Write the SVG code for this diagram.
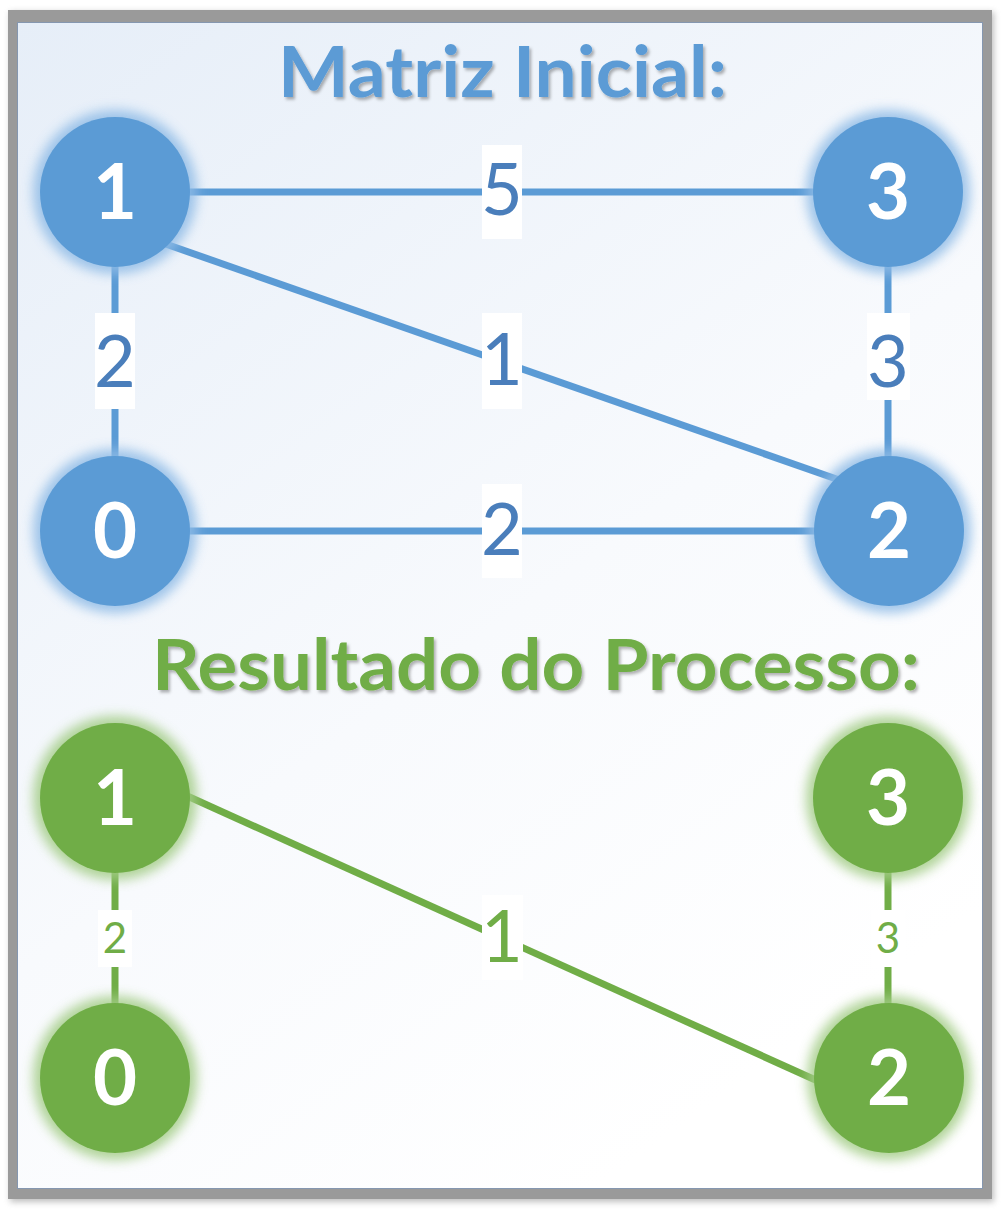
<svg xmlns="http://www.w3.org/2000/svg" width="1001" height="1210" viewBox="0 0 1001 1210">
  <defs>
    <linearGradient id="bg" x1="0" y1="0" x2="0.6" y2="1">
      <stop offset="0" stop-color="#e6eef8"/>
      <stop offset="0.6" stop-color="#f8fafd"/>
      <stop offset="1" stop-color="#ffffff"/>
    </linearGradient>
    <filter id="frameShadow" x="-5%" y="-5%" width="110%" height="110%">
      <feGaussianBlur stdDeviation="3"/>
    </filter>
    <filter id="glow" x="-30%" y="-30%" width="160%" height="160%">
      <feGaussianBlur stdDeviation="6"/>
    </filter>
    <filter id="tshadow" x="-5%" y="-20%" width="110%" height="150%">
      <feDropShadow dx="2" dy="2.5" stdDeviation="1.5" flood-color="#000" flood-opacity="0.3"/>
    </filter>
    <style>
      .blue { fill: #5b9bd5; }
      .green { fill: #70ad47; }
      .glowB { fill: #8fbbe6; opacity: 0.85; }
      .glowG { fill: #a3cc86; opacity: 0.85; }
      .nlabel { font-family: Lato, "Open Sans", sans-serif; font-weight: 700; font-size: 76px; fill: #ffffff; text-anchor: middle; }
      .eB { stroke: #5b9bd5; stroke-width: 7; fill: none; }
      .eG { stroke: #70ad47; stroke-width: 7; fill: none; }
      .lbg { fill: #ffffff; }
      .elB { font-family: Lato, "Open Sans", sans-serif; font-size: 72px; fill: #4a7ebb; text-anchor: middle; }
      .elG { font-family: Lato, "Open Sans", sans-serif; font-size: 72px; fill: #70ad47; text-anchor: middle; }
      .elGs { font-family: Lato, "Open Sans", sans-serif; font-size: 42px; fill: #70ad47; text-anchor: middle; }
      .title { font-family: Lato, "Open Sans", sans-serif; font-weight: 700; font-size: 70px; }
    </style>
  </defs>

  <!-- frame -->
  <rect x="10" y="12" width="984" height="1190" fill="#808080" opacity="0.5" filter="url(#frameShadow)"/>
  <rect x="8" y="10" width="984" height="1189" fill="#9a9a9a"/>
  <rect x="17.5" y="22.5" width="965" height="1166" fill="url(#bg)" stroke="#8597b0" stroke-width="1"/>

  <!-- titles -->
  <text class="title" x="278" y="97" textLength="449" lengthAdjust="spacingAndGlyphs" fill="#5b9bd5" filter="url(#tshadow)">Matriz Inicial:</text>
  <text class="title" x="152" y="690" textLength="768" lengthAdjust="spacingAndGlyphs" fill="#70ad47" filter="url(#tshadow)">Resultado do Processo:</text>

  <!-- connectors -->
  <g id="connectors">
    <!-- blue graph -->
    <line class="eB" x1="185" y1="192" x2="820" y2="192"/>
    <line class="eB" x1="115" y1="262" x2="115" y2="462"/>
    <line class="eB" x1="888" y1="262" x2="888" y2="462"/>
    <line class="eB" x1="185" y1="531" x2="820" y2="531"/>
    <line class="eB" x1="160" y1="242" x2="845" y2="482"/>
    <rect class="lbg" x="482" y="145" width="40" height="94"/>
    <text class="elB" x="502" y="215">5</text>
    <rect class="lbg" x="95" y="313" width="40" height="96"/>
    <text class="elB" x="115" y="387">2</text>
    <rect class="lbg" x="482" y="313" width="40" height="96"/>
    <text class="elB" x="502" y="385">1</text>
    <rect class="lbg" x="867" y="313" width="43" height="87"/>
    <text class="elB" x="888" y="387">3</text>
    <rect class="lbg" x="482" y="484" width="40" height="94"/>
    <text class="elB" x="502" y="555">2</text>

    <!-- green graph -->
    <line class="eG" x1="115" y1="868" x2="115" y2="1008"/>
    <line class="eG" x1="888" y1="868" x2="888" y2="1008"/>
    <line class="eG" x1="185" y1="795" x2="820" y2="1082"/>
    <rect class="lbg" x="98" y="910" width="34" height="57"/>
    <text class="elGs" x="115" y="953">2</text>
    <rect class="lbg" x="871" y="910" width="34" height="57"/>
    <text class="elGs" x="888" y="953">3</text>
    <rect class="lbg" x="482" y="895" width="41" height="85"/>
    <text class="elG" x="502" y="962">1</text>
  </g>

  <!-- blue nodes -->
  <g id="b1"><circle class="glowB" cx="115" cy="192" r="82" filter="url(#glow)"/><circle class="blue" cx="115" cy="192" r="75"/><text class="nlabel" x="115" y="219">1</text></g>
  <g id="b3"><circle class="glowB" cx="888" cy="192" r="82" filter="url(#glow)"/><circle class="blue" cx="888" cy="192" r="75"/><text class="nlabel" x="888" y="219">3</text></g>
  <g id="b0"><circle class="glowB" cx="115" cy="531" r="82" filter="url(#glow)"/><circle class="blue" cx="115" cy="531" r="75"/><text class="nlabel" x="115" y="558">0</text></g>
  <g id="b2"><circle class="glowB" cx="889" cy="531" r="82" filter="url(#glow)"/><circle class="blue" cx="889" cy="531" r="75"/><text class="nlabel" x="889" y="558">2</text></g>

  <!-- green nodes -->
  <g id="g1"><circle class="glowG" cx="115" cy="798" r="82" filter="url(#glow)"/><circle class="green" cx="115" cy="798" r="75"/><text class="nlabel" x="115" y="825">1</text></g>
  <g id="g3"><circle class="glowG" cx="888" cy="798" r="82" filter="url(#glow)"/><circle class="green" cx="888" cy="798" r="75"/><text class="nlabel" x="888" y="825">3</text></g>
  <g id="g0"><circle class="glowG" cx="115" cy="1078" r="82" filter="url(#glow)"/><circle class="green" cx="115" cy="1078" r="75"/><text class="nlabel" x="115" y="1105">0</text></g>
  <g id="g2"><circle class="glowG" cx="889" cy="1078" r="82" filter="url(#glow)"/><circle class="green" cx="889" cy="1078" r="75"/><text class="nlabel" x="889" y="1105">2</text></g>
</svg>
